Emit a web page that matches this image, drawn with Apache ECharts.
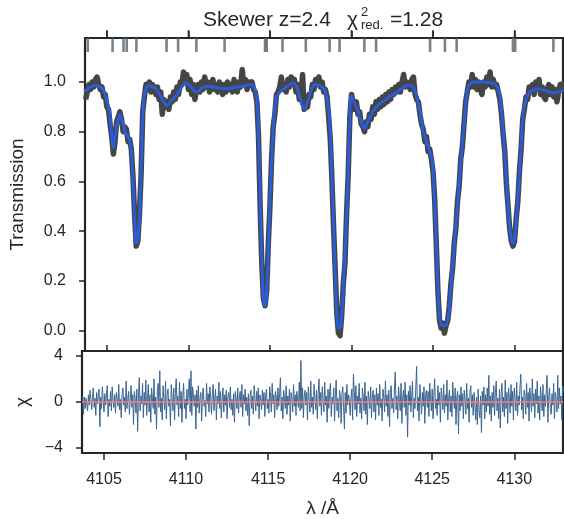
<!DOCTYPE html>
<html><head><meta charset="utf-8">
<script src="https://cdn.jsdelivr.net/npm/echarts@6/dist/echarts.min.js"></script>
<style>html,body{margin:0;padding:0;background:#fff}#c{width:564px;height:519px}</style>
</head><body><div id="c"></div>
<script>
// ---- tick labels ----
const xTicks = [4105, 4110, 4115, 4120, 4125, 4130];
const transTicks = [0, 0.2, 0.4, 0.6, 0.8, 1.0];
const chiTicks = [-4, 0, 4];

// ---- absorption line positions (top markers) ----
const lineWaves = [4103.83, 4105.35, 4106.02, 4106.22, 4106.81, 4108.66, 4109.37, 4110.49, 4112.22,
  4114.70, 4114.80, 4115.77, 4117.20, 4118.66, 4119.27, 4120.79, 4121.51, 4124.82, 4125.73,
  4126.45, 4129.90, 4130.04, 4132.38];

// ---- model (blue) ----
const modelWave = [4103.6,4103.72,4104.0,4104.33,4104.6,4104.84,4105.0,4105.15,4105.28,4105.39,4105.5,4105.61,4105.79,4105.95,4106.06,4106.2,4106.37,4106.5,4106.6,4106.7,4106.8,4106.9,4107.0,4107.1,4107.2,4107.3,4107.45,4107.58,4107.8,4107.99,4108.2,4108.45,4108.7,4108.95,4109.21,4109.5,4109.82,4110.1,4110.35,4110.53,4110.8,4111.14,4111.6,4112.0,4112.26,4112.8,4113.3,4113.7,4113.88,4114.05,4114.19,4114.3,4114.39,4114.5,4114.6,4114.68,4114.76,4114.86,4114.96,4115.05,4115.15,4115.28,4115.41,4115.61,4115.9,4116.2,4116.43,4116.7,4116.95,4117.13,4117.35,4117.6,4117.85,4118.1,4118.35,4118.5,4118.66,4118.78,4118.87,4118.98,4119.08,4119.2,4119.3,4119.42,4119.55,4119.68,4119.78,4119.88,4119.98,4120.15,4120.39,4120.6,4120.79,4121.0,4121.3,4121.61,4122.0,4122.3,4122.62,4123.0,4123.44,4123.7,4123.84,4124.0,4124.2,4124.4,4124.6,4124.8,4124.96,4125.08,4125.18,4125.28,4125.38,4125.5,4125.7,4125.85,4125.98,4126.1,4126.25,4126.4,4126.5,4126.7,4126.89,4127.05,4127.2,4127.5,4128.0,4128.5,4128.82,4129.0,4129.13,4129.3,4129.43,4129.55,4129.7,4129.82,4129.92,4130.02,4130.12,4130.25,4130.35,4130.45,4130.55,4130.75,4130.96,4131.37,4131.87,4132.1,4132.38,4132.7,4133.0];
const modelTrans = [0.965,0.967,0.98,0.987,0.98,0.96,0.925,0.886,0.8,0.737,0.78,0.826,0.869,0.84,0.813,0.79,0.773,0.72,0.6,0.45,0.35,0.37,0.46,0.65,0.86,0.95,0.98,0.987,0.98,0.973,0.955,0.925,0.906,0.925,0.94,0.97,0.996,0.985,0.965,0.96,0.975,0.983,0.98,0.975,0.973,0.978,0.983,0.988,0.99,0.975,0.94,0.8,0.55,0.28,0.13,0.10,0.12,0.25,0.45,0.6,0.75,0.88,0.94,0.96,0.975,0.99,0.996,0.97,0.91,0.893,0.93,0.98,0.99,0.985,0.967,0.93,0.846,0.65,0.485,0.28,0.1,0.01,0.01,0.08,0.25,0.42,0.6,0.82,0.946,0.92,0.886,0.84,0.813,0.84,0.88,0.906,0.925,0.94,0.953,0.97,0.987,0.985,0.973,0.94,0.88,0.80,0.76,0.72,0.68,0.55,0.4,0.2,0.07,0.025,0.02,0.03,0.08,0.18,0.3,0.42,0.5,0.68,0.82,0.94,0.987,1.0,1.0,0.998,0.99,0.97,0.93,0.8,0.686,0.55,0.42,0.36,0.35,0.38,0.46,0.58,0.686,0.8,0.886,0.94,0.96,0.973,0.967,0.96,0.956,0.962,0.967];

// ---- observed transmission (grey), sampled every 0.1 A from 4103.7 ----
const dataStart = 4103.7, dataStep = 0.1;
const dataTrans = [
0.93,0.96,0.99,0.97,1.0,0.98,1.01,1.02,0.99,0.97,
0.98,0.94,0.95,0.9,0.89,0.83,0.78,0.71,0.76,0.84,
0.86,0.88,0.85,0.8,0.82,0.81,0.76,0.77,0.73,0.62,
0.47,0.34,0.36,0.47,0.63,0.88,0.94,0.99,0.97,1.0,
0.96,0.99,0.97,0.95,0.98,0.93,0.96,0.87,0.93,0.9,
0.92,0.89,0.94,0.92,0.96,0.93,0.98,0.95,1.0,0.99,
1.04,1.01,1.03,0.97,1.01,0.95,0.99,0.93,0.97,0.99,
0.96,1.0,0.97,1.02,0.98,1.0,0.96,0.99,1.01,0.97,
0.99,0.96,1.0,0.97,0.95,0.99,0.96,1.0,0.97,0.99,
0.96,1.01,0.98,0.96,1.0,0.98,1.05,0.99,1.01,0.97,
1.0,0.99,1.0,0.97,0.96,0.92,0.78,0.5,0.27,0.13,
0.1,0.16,0.35,0.5,0.69,0.82,0.87,0.95,0.96,0.98,
1.02,0.97,0.99,0.96,1.01,0.98,1.02,1.0,1.01,0.96,
0.99,0.93,0.94,1.03,0.89,0.91,0.9,0.95,0.94,0.99,
0.97,1.01,0.99,1.02,0.98,1.0,0.96,0.97,0.94,0.86,
0.77,0.61,0.42,0.25,0.07,-0.01,-0.02,0.06,0.19,0.27,
0.47,0.63,0.86,0.95,0.95,0.89,0.92,0.87,0.88,0.83,
0.82,0.8,0.84,0.82,0.87,0.85,0.9,0.87,0.92,0.89,
0.93,0.9,0.94,0.91,0.95,0.92,0.96,0.93,0.97,0.95,
0.98,0.96,0.99,0.96,1.0,1.03,0.98,1.0,0.99,0.97,
1.01,1.02,0.95,0.93,0.92,0.87,0.83,0.81,0.76,0.78,
0.72,0.73,0.69,0.64,0.53,0.35,0.16,0.04,0.01,0.03,
-0.01,0.02,0.04,0.1,0.19,0.25,0.35,0.41,0.52,0.58,
0.69,0.74,0.83,0.92,0.96,1.0,0.98,1.03,0.98,1.01,
0.97,1.0,0.97,0.95,1.0,0.98,1.02,0.99,1.04,0.98,
1.01,0.98,0.99,0.96,0.93,0.87,0.79,0.72,0.59,0.5,
0.41,0.36,0.34,0.36,0.45,0.52,0.64,0.73,0.85,0.89,
0.94,0.93,0.98,0.97,0.99,0.95,1.0,0.98,1.01,0.95,
0.98,0.94,0.93,0.97,0.99,0.95,0.98,0.94,0.97,0.92,
0.96,0.99,0.97,1.0];

// ---- residuals chi, sampled every 0.05 A from 4103.7 ----
const chiStart = 4103.7, chiStep = 0.05;
const chiVals = [
0.5,-1.1,0.4,-0.6,0.3,0.2,-0.8,0.6,-0.3,1.0,0.2,-0.7,0.4,1.2,-0.5,0.3,-1.2,0.8,-0.2,0.5,
1.1,-2.2,0.4,-0.6,1.3,0.2,-0.9,0.7,-0.3,0.5,1.4,-1.3,0.2,-0.4,0.9,-0.8,1.3,0.1,-0.5,0.6,
-1.0,0.8,0.3,-0.4,1.5,-0.7,0.2,-1.4,0.6,1.2,-0.3,0.4,-0.9,1.8,-0.6,0.2,0.9,-1.1,0.3,1.4,
-0.5,0.6,-2.0,0.9,0.3,-1.0,1.1,-2.6,0.4,2.1,-0.8,0.5,-0.2,1.6,-1.4,0.8,-0.3,1.9,-1.2,0.2,
1.5,-0.9,0.6,-1.8,1.2,0.3,-0.6,2.0,-1.1,0.4,-2.4,0.9,1.6,-0.5,2.7,-0.9,0.3,-1.6,1.4,0.2,
-0.7,1.8,-1.5,0.6,1.1,-0.4,0.2,-2.1,1.5,0.3,-0.8,1.2,-1.6,0.7,2.0,-0.3,0.5,-1.3,1.7,-0.6,
0.9,-1.8,0.4,1.6,-0.6,0.2,-1.5,1.1,-0.3,0.8,2.0,-0.9,2.7,-1.2,1.3,0.5,-0.4,0.6,-2.4,1.0,
-0.5,1.4,-1.0,0.3,0.8,-1.7,0.5,1.2,-0.4,0.1,-1.3,1.6,-0.2,0.7,-0.9,1.3,0.4,-1.1,0.6,1.5,
-0.8,0.3,1.1,-1.6,0.5,-0.2,1.7,-0.6,0.9,-1.4,0.2,1.2,-0.9,0.6,-0.3,1.0,-1.5,0.4,0.8,-0.5,
1.3,-0.7,0.2,-1.2,0.7,-1.8,0.9,0.3,-0.6,1.2,-1.0,0.4,0.9,-0.5,1.5,-1.3,0.6,-0.2,1.1,-0.8,
0.4,-1.2,0.7,-2.1,0.3,1.0,-0.6,0.5,-1.1,1.4,0.2,-0.8,0.9,-0.4,1.2,-1.5,0.6,0.1,-0.7,1.0,
-0.3,0.8,-1.3,0.5,1.1,-0.6,0.2,-1.0,1.3,0.4,-0.9,1.6,-0.2,0.6,-1.4,0.9,0.3,-0.7,1.2,-0.4,
0.7,2.1,-0.8,0.4,-1.5,1.0,0.2,-0.6,1.4,-1.1,0.5,-0.3,1.1,-1.7,0.8,0.3,-0.9,1.5,-0.4,0.6,
-1.2,0.9,0.2,-0.5,1.7,-0.8,3.6,-0.6,1.2,-1.4,0.5,1.0,-0.3,0.8,-1.6,1.3,0.2,-0.9,1.8,-0.5,
0.4,-1.1,1.5,0.3,-0.7,1.0,-1.5,0.6,2.0,-0.4,0.8,-1.2,1.3,0.1,-0.9,1.7,-0.3,0.5,-1.8,1.1,
-0.6,0.9,1.6,-1.3,0.4,-0.2,1.2,-1.7,0.6,1.9,-0.8,0.3,-1.4,1.0,0.5,-1.9,0.7,1.3,-0.5,-2.4,
0.8,-1.0,1.5,-0.3,0.6,0.2,-1.2,0.4,1.1,-1.6,2.4,0.9,-0.7,1.4,-1.3,0.5,-0.2,1.6,-1.0,0.3,
-1.5,1.2,0.3,-0.8,1.7,-1.1,0.5,-2.0,0.9,0.2,-0.6,1.3,-1.4,0.4,1.0,-0.9,0.6,-1.6,1.2,-0.3,
0.7,-1.2,1.5,-0.5,0.2,-1.7,1.1,0.4,-0.9,1.8,-0.4,0.6,-1.3,1.0,-2.2,0.8,1.4,-0.6,0.3,-1.0,
1.2,2.6,-0.7,0.5,-1.5,1.3,0.2,-0.8,1.6,-1.9,0.4,1.0,-0.5,1.7,-1.2,0.6,-3.1,0.9,-0.3,1.4,
-0.9,0.5,1.8,-1.4,0.3,-0.6,1.2,3.1,-0.8,0.4,-1.7,1.5,0.2,-1.1,0.8,-0.4,1.3,-1.9,0.6,1.0,
-0.5,0.9,-1.3,1.6,0.3,-0.8,1.1,-1.5,0.5,2.0,-0.6,0.2,-1.2,1.4,-0.3,0.8,-1.8,1.2,0.4,-0.7,
1.5,-1.0,0.6,-0.4,1.9,-1.6,0.3,1.0,-0.9,0.5,-1.3,1.7,0.2,-0.6,1.2,-2.0,0.4,0.9,-2.8,0.6,
-0.8,1.3,-0.4,0.7,-1.5,1.0,0.2,-1.1,1.6,-0.6,0.3,-1.8,0.9,1.4,-0.5,0.6,-1.2,0.8,-0.2,-1.6,
0.4,-2.0,1.1,-0.7,-1.4,0.5,-2.7,0.9,-0.3,1.3,-1.5,0.6,-0.9,1.2,-0.4,2.3,-1.1,0.5,-1.7,0.8,
-0.5,1.4,-1.2,0.7,1.8,-0.8,0.3,-1.5,1.1,-2.3,0.6,1.6,-0.9,0.4,-1.3,1.9,-0.6,0.8,-1.9,1.2,
0.3,-1.0,1.5,-0.4,0.9,-1.6,1.2,0.2,-0.8,1.7,-1.2,0.5,-0.3,1.3,2.4,-0.7,0.4,-1.5,1.0,0.6,
-1.1,1.6,-0.5,0.8,-1.7,1.2,0.3,-0.9,2.0,-0.4,0.7,-1.4,1.1,-0.2,1.8,-1.0,0.5,-1.6,1.3,0.2,
-0.8,1.5,-1.3,0.6,-0.4,0.9,2.3,-1.8,0.4,1.2,-0.6,-1.1,0.7,-0.3,1.6,-1.5,0.8,0.2,-0.9,2.3,
-0.6,1.2,-0.2,0.5,-1.6,1.4,0.9];

// ---- axis ranges ----
const X_MIN = 4103.66, X_MAX = 4132.97;
const T_MIN = -0.082, T_MAX = 1.177;
const C_MIN = -4.49, C_MAX = 4.43;

const FONT = 'Liberation Sans, Arial, Helvetica, sans-serif';
const INK = '#262626';

const modelData = modelWave.map((w, i) => [w, modelTrans[i]]);
const obsData = dataTrans.map((v, i) => [+(dataStart + i * dataStep).toFixed(2), v]);
const chiData = chiVals.map((v, i) => [+(chiStart + i * chiStep).toFixed(2), v]);
const markerData = lineWaves.map(w => [w, T_MAX]);
const topTickData = xTicks.map(w => [w, T_MAX]);

const chart = echarts.init(document.getElementById('c'), null, {renderer: 'canvas'});

function xAx(gridIndex, position, opts) {
  return Object.assign({
    type: 'value', gridIndex, position, min: X_MIN, max: X_MAX,
    axisLine: {show: false, onZero: false}, splitLine: {show: false},
    axisTick: {show: true, customValues: xTicks, length: 7, lineStyle: {color: INK, width: 1.6}},
    axisLabel: {show: false}
  }, opts || {});
}

chart.setOption({
  animation: false,
  backgroundColor: '#fff',
  grid: [
    {left: 82, top: 38, width: 481, height: 313, show: true, borderColor: INK, borderWidth: 2.2, backgroundColor: 'transparent'},
    {left: 82, top: 351, width: 481, height: 104, show: true, borderColor: INK, borderWidth: 2.2, backgroundColor: 'transparent'}
  ],
  xAxis: [
    xAx(0, 'bottom', {axisTick: {show: true, inside: true, customValues: xTicks, length: 6, lineStyle: {color: INK, width: 1.5}}}),
    xAx(0, 'top'),
    xAx(1, 'bottom', {
      axisTick: {show: true, customValues: xTicks, length: 7, lineStyle: {color: INK, width: 1.5}},
      axisLabel: {show: true, customValues: xTicks, margin: 19, fontSize: 16, color: INK, fontFamily: FONT,
        formatter: v => String(Math.round(v))},
      name: 'λ /Å', nameLocation: 'middle', nameGap: 46,
      nameTextStyle: {fontSize: 19, color: INK, fontFamily: FONT}
    })
  ],
  yAxis: [
    {
      type: 'value', gridIndex: 0, min: T_MIN, max: T_MAX,
      axisLine: {show: false, onZero: false}, splitLine: {show: false},
      axisTick: {show: true, customValues: transTicks, length: 6, lineStyle: {color: INK, width: 1.5}},
      axisLabel: {show: true, customValues: transTicks, margin: 19, fontSize: 16, color: INK, fontFamily: FONT,
        formatter: v => v.toFixed(1)},
      name: 'Transmission', nameLocation: 'middle', nameGap: 58,
      nameTextStyle: {fontSize: 19, color: INK, fontFamily: FONT}
    },
    {
      type: 'value', gridIndex: 1, min: C_MIN, max: C_MAX,
      axisLine: {show: false, onZero: false}, splitLine: {show: false},
      axisTick: {show: true, customValues: chiTicks, length: 6, lineStyle: {color: INK, width: 1.5}},
      axisLabel: {show: true, customValues: chiTicks, margin: 19, fontSize: 16, color: INK, fontFamily: FONT,
        formatter: v => (v < 0 ? '\u2212' + Math.abs(v) : String(v))},
      name: 'χ', nameLocation: 'middle', nameGap: 50,
      nameTextStyle: {fontSize: 19, color: INK, fontFamily: FONT}
    }
  ],
  series: [
    {
      name: 'data', type: 'line', xAxisIndex: 0, yAxisIndex: 0, data: obsData,
      showSymbol: false, z: 2, lineStyle: {color: '#454545', width: 5.5, join: 'round'}
    },
    {
      name: 'model', type: 'line', xAxisIndex: 0, yAxisIndex: 0, data: modelData,
      showSymbol: false, smooth: 0.3, z: 3, lineStyle: {color: '#2a5bd8', width: 3}
    },
    {
      name: 'lines', type: 'scatter', xAxisIndex: 1, yAxisIndex: 0, data: markerData,
      symbol: 'rect', symbolSize: [2.6, 14], symbolOffset: [0, 7], clip: false, z: 4,
      itemStyle: {color: '#56646e'}
    },
    {
      // outward major ticks above the top spine
      name: 'topticks', type: 'scatter', xAxisIndex: 1, yAxisIndex: 0, data: topTickData,
      symbol: 'rect', symbolSize: [1.6, 7], symbolOffset: [0, -4.5], clip: false, z: 5,
      itemStyle: {color: INK}
    },
    {
      name: 'zero', type: 'line', xAxisIndex: 2, yAxisIndex: 1, data: [], z: 1,
      markLine: {silent: true, symbol: 'none', label: {show: false},
        lineStyle: {color: '#ff7b7b', width: 1.5, type: 'solid'}, data: [{yAxis: 0}]}
    },
    {
      name: 'chi', type: 'line', xAxisIndex: 2, yAxisIndex: 1, data: chiData,
      showSymbol: false, z: 2, lineStyle: {color: '#3a6591', width: 1}
    }
  ],
  graphic: [
    {type: 'text', x: 203, y: 20, style: {text: 'Skewer z=2.4', fontSize: 21, fontFamily: FONT, fill: INK, verticalAlign: 'middle'}},
    {type: 'text', x: 347, y: 20, style: {text: 'χ', fontSize: 21, fontFamily: FONT, fill: INK, verticalAlign: 'middle'}},
    {type: 'text', x: 361, y: 12, style: {text: '2', fontSize: 13, fontFamily: FONT, fill: INK, verticalAlign: 'middle'}},
    {type: 'text', x: 361, y: 25, style: {text: 'red.', fontSize: 13, fontFamily: FONT, fill: INK, verticalAlign: 'middle'}},
    {type: 'text', x: 390, y: 20, style: {text: '=1.28', fontSize: 21, fontFamily: FONT, fill: INK, verticalAlign: 'middle'}}
  ]
});
</script>
</body></html>
